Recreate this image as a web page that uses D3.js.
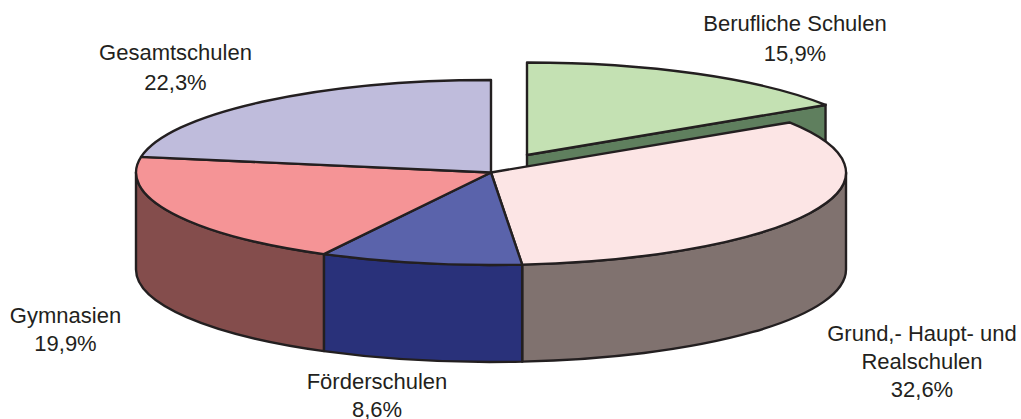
<!DOCTYPE html>
<html>
<head>
<meta charset="utf-8">
<script src="https://cdn.jsdelivr.net/npm/d3@7"></script>
<style>
    html, body { margin: 0; padding: 0; background: #fff; }
    text { font-family: "Liberation Sans", Arial, sans-serif; font-size: 22px; fill: #231f20; }
</style>
</head>
<body>
<div id="chart"></div>
<script>
// slice order runs clockwise from 12 o'clock
const categories = ["Berufliche Schulen", "Grund,- Haupt- und Realschulen", "Förderschulen", "Gymnasien", "Gesamtschulen"];
// shares as drawn in the picture (the printed 8,6% slice is drawn at about 9.2)
const shares = [15.9, 32.7, 9.2, 19.9, 22.3];
const shareLabels = ["15,9%", "32,6%", "8,6%", "19,9%", "22,3%"];
const topColors = ["#c4e1b3", "#fce5e5", "#5a63ab", "#f59496", "#bfbcdc"];
const wallColors = ["#5f7f5e", "#80726f", "#29317a", "#844d4c", "#77749a"];
const labelLines = [["Berufliche Schulen"], ["Grund,- Haupt- und", "Realschulen"], ["Förderschulen"], ["Gymnasien"], ["Gesamtschulen"]];

const width = 1021, height = 419;
const rx = 355, ry = 92.5, depth = 97;
const cx = 491, cy = 172.5;
const explode = {dx: 36, dy: -17.5};
const labelPos = [[795, 30.5], [922, 341], [377, 389], [65.5, 323], [175.5, 59.5]];
const lineGaps = [30, 28, 28, 28, 30];

const svg = d3.select("#chart").append("svg")
    .attr("width", width)
    .attr("height", height)
    .style("display", "block");

const x = d3.scaleLinear().domain([-1, 1]).range([cx - rx, cx + rx]);
const y = d3.scaleLinear().domain([-1, 1]).range([cy - ry, cy + ry]);

const pie = d3.pie().sort(null).startAngle(0).endAngle(2 * Math.PI);
const slices = pie(shares).map((d, i) => ({
    start: d.startAngle,
    end: d.endAngle,
    top: topColors[i],
    wall: wallColors[i]
}));

const px = a => x(Math.sin(a));
const py = a => y(-Math.cos(a));

function topPath(d) {
    const large = d.end - d.start > Math.PI ? 1 : 0;
    return `M${cx},${cy}L${px(d.start)},${py(d.start)}` +
        `A${rx},${ry} 0 ${large} 1 ${px(d.end)},${py(d.end)}Z`;
}

// outer wall, only the part facing the viewer
function wallPath(d) {
    const a0 = Math.max(d.start, Math.PI / 2);
    const a1 = Math.min(d.end, 3 * Math.PI / 2);
    if (a1 <= a0) return null;
    return `M${px(a0)},${py(a0)}A${rx},${ry} 0 0 1 ${px(a1)},${py(a1)}` +
        `L${px(a1)},${py(a1) + depth}A${rx},${ry} 0 0 0 ${px(a0)},${py(a0) + depth}Z`;
}

// cut face of the pulled out slice
function cutPath(d) {
    return `M${cx},${cy}L${px(d.end)},${py(d.end)}L${px(d.end)},${py(d.end) + depth}L${cx},${cy + depth}Z`;
}

const stroke = "#231f20";
const strokeWidth = 2.4;

const out = svg.append("g")
    .attr("transform", `translate(${explode.dx},${explode.dy})`);
out.append("path")
    .attr("d", cutPath(slices[0]))
    .attr("fill", slices[0].wall)
    .attr("stroke", stroke)
    .attr("stroke-width", strokeWidth);
out.append("path")
    .attr("d", topPath(slices[0]))
    .attr("fill", slices[0].top)
    .attr("stroke", stroke)
    .attr("stroke-width", strokeWidth)
    .attr("stroke-linejoin", "round");

const rest = slices.slice(1);

svg.append("g").selectAll("path")
    .data(rest.filter(wallPath))
    .enter()
    .append("path")
    .attr("d", wallPath)
    .attr("fill", d => d.wall)
    .attr("stroke", stroke)
    .attr("stroke-width", strokeWidth)
    .attr("stroke-linejoin", "round");

svg.append("g").selectAll("path")
    .data(rest)
    .enter()
    .append("path")
    .attr("d", topPath)
    .attr("fill", d => d.top)
    .attr("stroke", stroke)
    .attr("stroke-width", strokeWidth)
    .attr("stroke-linejoin", "round");

const labels = svg.append("g").selectAll("text")
    .data(categories)
    .enter()
    .append("text")
    .attr("text-anchor", "middle")
    .attr("x", (d, i) => labelPos[i][0])
    .attr("y", (d, i) => labelPos[i][1]);

labels.each(function (d, i) {
    const lines = labelLines[i].concat(shareLabels[i]);
    d3.select(this).selectAll("tspan")
        .data(lines)
        .enter()
        .append("tspan")
        .attr("x", labelPos[i][0])
        .attr("dy", (l, j) => j === 0 ? 0 : lineGaps[i])
        .text(l => l);
});
</script>
</body>
</html>
